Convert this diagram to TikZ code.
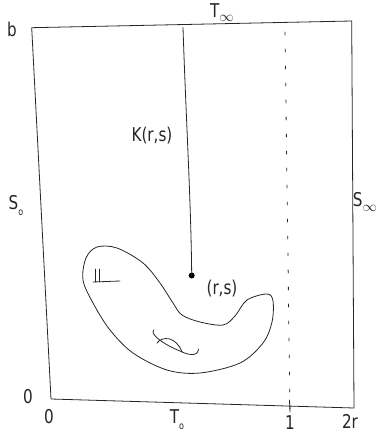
\documentclass[tikz,border=0pt]{standalone}
\usepackage{fontspec}
\setmainfont{DejaVu Sans}
\begin{document}
\begin{tikzpicture}[x=1pt,y=-1pt,
  pen/.style={draw=black!85,line width=0.8pt,line cap=round,line join=round},
  lab/.style={font=\fontsize{19}{19}\selectfont\addfontfeature{FakeStretch=0.8}, text=black!85, inner sep=0pt}]
\useasboundingbox (0,0) rectangle (382,434);
% frame
\coordinate (tl) at (31.7,27.7);
\coordinate (tr) at (351.7,21);
\coordinate (br) at (354,408);
\coordinate (bl) at (51,399);
\draw[pen] (tl) -- (tr) -- (br) -- (bl) -- cycle;
% vertical line to point
\coordinate (top) at (183,27.5);
\node[circle,fill=black,inner sep=0pt,minimum size=6pt] (pt) at (191.7,275.5) {};
\draw[pen] (top) .. controls (186,120) and (191,200) .. (pt.center);
% dashed line
\coordinate (d1) at (285,32);
\coordinate (d2) at (290,412);
\draw[pen,dash pattern=on 3pt off 14pt] (d1) -- (d2);
\draw[pen] (289.5,400) -- (290,412);
% blob
\draw[pen] plot[smooth cycle,tension=0.55] coordinates {
 (97,247) (117,248) (143,263) (160,283) (173,303) (182,315) (200,322)
 (223,325) (235,316) (247,300) (267,294) (273,301) (272,322) (263,343)
 (240,363) (200,373) (167,370) (133,353) (110,330) (93,303) (83,280) (86,258)};
% scribble inside
\draw[pen] (153.5,330) .. controls (150,335) and (165,345) .. (180,351)
   .. controls (190,356) and (198,356) .. (198.5,349);
\draw[pen] (157,343) .. controls (162,336) and (176,336) .. (182,352);
% II mark
\draw[pen] (95,269) -- (95,282);
\draw[pen] (99,269) -- (99,282);
\draw[pen] (93,282) -- (120,281);
% labels
\node[lab] (b) at (12,29) {b};
\node[lab] (tinf) at (222,13) {T\raisebox{-4pt}{$\scriptstyle\infty$}};
\node[lab] (k) at (152,136) {K(r,s)};
\node[lab] (rs) at (222,289) {(r,s)};
\node[lab] (s0) at (16,206) {S\raisebox{-6pt}{\fontsize{10}{10}\selectfont o}};
\node[lab] (sinf) at (365,202) {S\raisebox{-5pt}{$\scriptstyle\infty$}};
\node[lab] (zl) at (28,397) {0};
\node[lab] (zb) at (49,417) {0};
\node[lab] (t0) at (177,420) {T\raisebox{-6pt}{\fontsize{10}{10}\selectfont o}};
\node[lab] (one) at (290,423) {1};
\node[lab] (tr2) at (350,421) {2r};
\end{tikzpicture}
\end{document}
